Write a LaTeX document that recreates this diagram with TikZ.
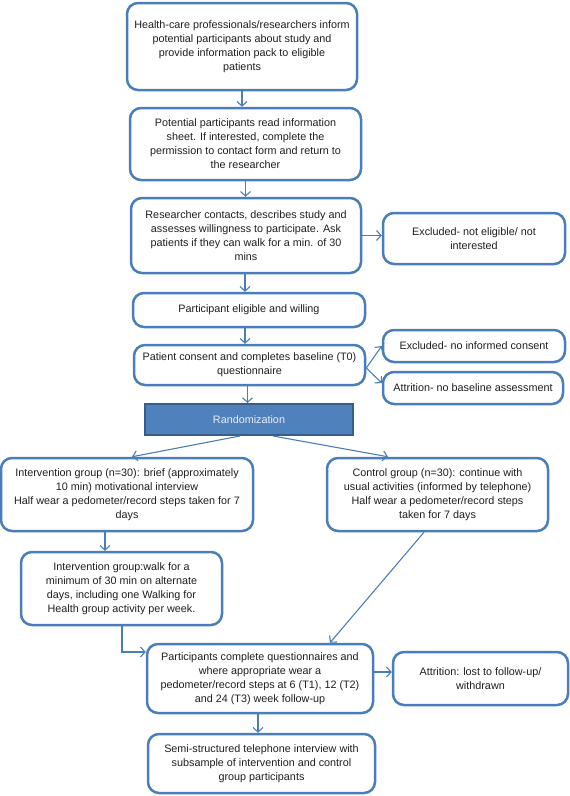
\documentclass[tikz,border=0pt]{standalone}
\usepackage{fontspec}
\setmainfont{Liberation Sans}
\usetikzlibrary{arrows.meta}
\definecolor{bord}{RGB}{74,126,187}
\definecolor{lnc}{RGB}{74,126,187}
\definecolor{rfill}{RGB}{79,129,189}
\definecolor{rbord}{RGB}{56,93,138}
\definecolor{txt}{RGB}{30,30,30}
\definecolor{rtxt}{RGB}{232,238,246}
\begin{document}
\begin{tikzpicture}[x=1pt,y=-1pt,
  box/.style={draw=bord,line width=2.5pt,rounded corners=11pt,align=center,
    inner sep=0pt,text=txt,font=\fontsize{10.8}{14}\selectfont},
  randbox/.style={draw=rbord,fill=rfill,line width=2pt,align=center,inner sep=0pt,
    text=rtxt,font=\fontsize{10.8}{14}\selectfont},
  arr/.style={draw=lnc,line width=1.1pt,-{Straight Barb[length=4.5pt,width=10pt,line width=1.1pt]}}]
\useasboundingbox (0,0) rectangle (570,796);
\node[box,minimum width=230pt,minimum height=87pt] (b1) at (242,46.5)
  {Health-care professionals/researchers inform\\potential participants about study and\\provide information pack to eligible\\patients};
\node[box,minimum width=231pt,minimum height=72pt] (b2) at (245.5,144)
  {Potential participants read information\\sheet. If interested, complete the\\permission to contact form and return to\\the researcher};
\node[box,minimum width=230pt,minimum height=75pt] (b3) at (246,235.5)
  {Researcher contacts, describes study and\\assesses willingness to participate. Ask\\patients if they can walk for a min. of 30\\mins};
\node[box,minimum width=182pt,minimum height=51pt] (ex1) at (474,238.5)
  {Excluded- not eligible/ not\\interested};
\node[box,minimum width=232pt,minimum height=34pt] (b4) at (249,310)
  {Participant eligible and willing};
\node[box,minimum width=231pt,minimum height=40pt] (b5) at (249.5,365)
  {Patient consent and completes baseline (T0)\\questionnaire};
\node[box,minimum width=182pt,minimum height=32pt] (ex2) at (474,346)
  {Excluded- no informed consent};
\node[box,minimum width=180pt,minimum height=32pt] (ex3) at (473,388)
  {Attrition- no baseline assessment};
\node[randbox,minimum width=208pt,minimum height=31pt] (rand) at (249,419.5)
  {Randomization};
\node[box,minimum width=252pt,minimum height=73pt] (int) at (127,494.5)
  {Intervention group (n=30): brief (approximately\\10 min) motivational interview\\Half wear a pedometer/record steps taken for 7\\days};
\node[box,minimum width=221pt,minimum height=73pt] (ctl) at (437.5,494.5)
  {Control group (n=30): continue with\\usual activities (informed by telephone)\\Half wear a pedometer/record steps\\taken for 7 days};
\node[box,minimum width=201pt,minimum height=73pt] (walk) at (121.5,588.5)
  {Intervention group:walk for a\\minimum of 30 min on alternate\\days, including one Walking for\\Health group activity per week.};
\node[box,minimum width=226pt,minimum height=69pt] (part) at (260,678.5)
  {Participants complete questionnaires and\\where appropriate wear a\\pedometer/record steps at 6 (T1), 12 (T2)\\and 24 (T3) week follow-up};
\node[box,minimum width=175pt,minimum height=53pt] (att) at (480.5,678.5)
  {Attrition: lost to follow-up/\\withdrawn};
\node[box,minimum width=227pt,minimum height=59pt] (semi) at (261.5,763.5)
  {Semi-structured telephone interview with\\subsample of intervention and control\\group participants};
% connectors
\draw[arr] (b1.south) -- (b1.south |- b2.north);
\draw[arr] (b2.south) -- (b2.south |- b3.north);
\draw[arr] (b3.east) -- (b3.east -| ex1.west);
\draw[arr] ([xshift=-1pt]b3.south) -- ([xshift=-1pt]b3.south |- b4.north);
\draw[arr] ([xshift=-4pt]b4.south) -- ([xshift=-4pt]b4.south |- b5.north);
\draw[arr] ([yshift=-3pt]b5.east) -- (ex2.west);
\draw[arr] ([yshift=-3pt]b5.east) -- ([yshift=5pt]ex3.west);
\draw[arr] ([xshift=-2pt]b5.south) -- ([xshift=-2pt]b5.south |- rand.north);
\draw[arr] ([xshift=-9pt]rand.south) -- ([xshift=5pt]int.north);
\draw[arr] ([xshift=24pt]rand.south) -- ([xshift=-49.5pt]ctl.north);
\draw[arr] ([xshift=-22pt]int.south) -- ([xshift=-22pt]int.south |- walk.north);
\draw[arr] ([xshift=0.5pt]walk.south) |- ([yshift=26.5pt]part.west);
\draw[arr] ([xshift=-13.5pt]ctl.south) -- ([xshift=70pt]part.north);
\draw[arr] ([yshift=6.5pt]part.east) -- ([yshift=6.5pt]part.east -| att.west);
\draw[arr] ([xshift=-2pt]part.south) -- ([xshift=-2pt]part.south |- semi.north);
\end{tikzpicture}
\end{document}
